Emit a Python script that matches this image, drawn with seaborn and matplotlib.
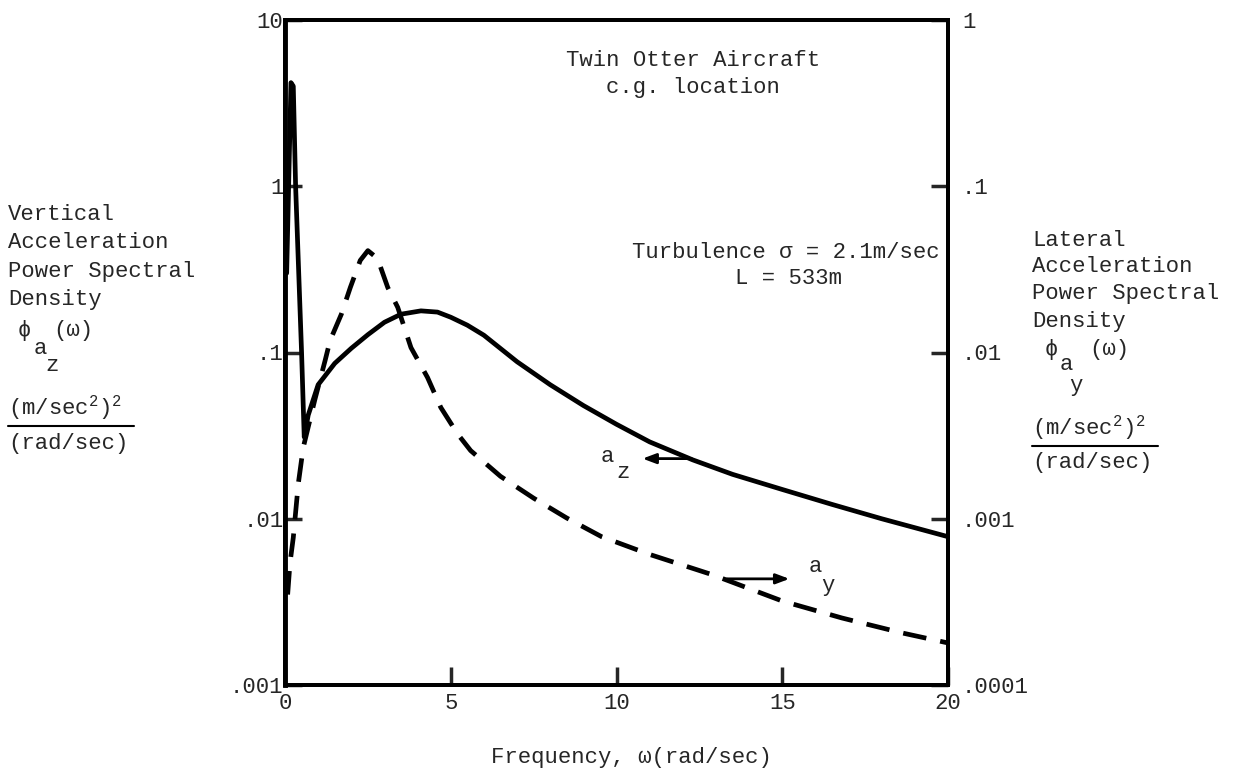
import matplotlib
matplotlib.use('Agg')
import matplotlib.pyplot as plt
import seaborn as sns
from matplotlib.lines import Line2D
from matplotlib.ticker import NullLocator

# a_z, vertical acceleration PSD (left axis)
freq_az = [0.05, 0.18, 0.25, 0.32, 0.5, 0.58, 0.7, 1.0, 1.5, 2.0, 2.5, 3.0,
           3.5, 4.1, 4.6, 5.0, 5.5, 6.0, 7.0, 8.0, 9.0, 10.0, 11.0, 12.3,
           13.5, 15.0, 16.5, 18.0, 20.0]
psd_az = [0.3, 4.2, 4.0, 1.0, 0.1, 0.031, 0.042, 0.064, 0.086, 0.106, 0.128,
          0.152, 0.170, 0.178, 0.175, 0.163, 0.146, 0.127, 0.088, 0.064,
          0.048, 0.037, 0.029, 0.0226, 0.0185, 0.0150, 0.0122, 0.0100, 0.0078]

# a_y, lateral acceleration PSD (right axis)
freq_ay = [0.08, 0.15, 0.25, 0.4, 0.55, 0.9, 1.21, 1.36, 1.7, 1.97, 2.27, 2.5,
           2.79, 3.1, 3.4, 3.8, 4.3, 4.7, 5.2, 5.6, 6.5, 7.5, 8.5, 9.55, 11.0,
           12.9, 15.0, 16.8, 18.6, 20.0]
psd_ay = [0.00035, 0.00054, 0.00077, 0.00162, 0.00268, 0.0052, 0.00895,
          0.0118, 0.017, 0.0246, 0.0358, 0.041, 0.0368, 0.0246, 0.0187,
          0.0107, 0.00707, 0.00467, 0.00325, 0.00257, 0.0018, 0.00133,
          0.00101, 0.00078, 0.00061, 0.00046, 0.00032, 0.000253, 0.000206,
          0.000179]

x_ticks = [0, 5, 10, 15, 20]
left_ticks = [0.001, 0.01, 0.1, 1, 10]
left_labels = ['.001', '.01', '.1', '1', '10']
right_ticks = [0.0001, 0.001, 0.01, 0.1, 1]
right_labels = ['.0001', '.001', '.01', '.1', '1']

sns.set_style('white')
plt.rcParams['font.family'] = ['Liberation Mono', 'DejaVu Sans Mono']
plt.rcParams['mathtext.fontset'] = 'custom'
plt.rcParams['mathtext.rm'] = 'Liberation Mono'
plt.rcParams['mathtext.it'] = 'Liberation Mono'

W, H = 1243, 777
fig = plt.figure(figsize=(W / 100, H / 100), dpi=100)
ax = fig.add_axes([285 / W, 1 - 685 / H, 663 / W, 665 / H])
ax.set_yscale('log')
sns.lineplot(x=freq_az, y=psd_az, ax=ax, color='black', lw=3.4)

ax2 = ax.twinx()
ax2.set_yscale('log')
sns.lineplot(x=freq_ay, y=psd_ay, ax=ax2, color='black', lw=3.4)
ax2.lines[-1].set_dashes([5, 3])

ax.set_xlim(0, 20)
ax.set_ylim(1e-3, 10)
ax2.set_ylim(1e-4, 1)

ax.set_xticks(x_ticks, [str(t) for t in x_ticks])
ax.set_yticks(left_ticks, left_labels)
ax2.set_yticks(right_ticks, right_labels)
for a in (ax, ax2):
    a.yaxis.set_minor_locator(NullLocator())
    a.xaxis.set_minor_locator(NullLocator())
    a.set_xlabel('')
    a.set_ylabel('')
ax.tick_params(axis='y', left=True, right=False, direction='in', length=12,
               width=2.5, pad=1, labelsize=16)
ax.tick_params(axis='x', bottom=True, top=False, direction='in', length=13,
               width=2.5, pad=6, labelsize=16)
ax2.tick_params(axis='y', right=True, left=False, direction='in', length=12,
                width=2.5, pad=10, labelsize=16)

for a in (ax, ax2):
    for sp in a.spines.values():
        sp.set_visible(True)
        sp.set_linewidth(2.8)
        sp.set_color('black')
ax.spines['left'].set_linewidth(3.5)


def ftxt(x, y, s, ha='left', **kw):
    fig.text(x / W, 1 - y / H, s, ha=ha, va='center', fontsize=16, **kw)


def fline(x0, x1, y):
    fig.add_artist(Line2D([x0 / W, x1 / W], [1 - y / H, 1 - y / H],
                          color='black', lw=1.5))


# titles inside the plot
ftxt(693, 61, 'Twin Otter Aircraft', ha='center')
ftxt(693, 88, 'c.g. location', ha='center')
ftxt(632, 252, 'Turbulence σ = 2.1m/sec')
ftxt(735, 278, 'L = 533m')

# left axis label
for i, s in enumerate(['Vertical', 'Acceleration', 'Power Spectral', 'Density']):
    ftxt(8, 214 + 28.5 * i, s)
ftxt(18, 331, 'ϕ')
ftxt(34, 348, 'a')
ftxt(45, 366, 'z')
ftxt(53, 331, '(ω)')
ftxt(8, 408, '(m/sec$^2$)$^2$')
fline(8, 134, 426)
ftxt(8, 443, '(rad/sec)')

# right axis label
for i, s in enumerate(['Lateral', 'Acceleration', 'Power Spectral', 'Density']):
    ftxt(1032, 240 + 27 * i, s)
ftxt(1045, 349, 'ϕ')
ftxt(1060, 364, 'a')
ftxt(1069, 386, 'y')
ftxt(1089, 349, '(ω)')
ftxt(1032, 428, '(m/sec$^2$)$^2$')
fline(1032, 1158, 446)
ftxt(1032, 463, '(rad/sec)')

# x axis label
ftxt(631, 757, 'Frequency, ω(rad/sec)', ha='center')

# curve labels with arrows
arrow = dict(arrowstyle='-|>,head_length=0.8,head_width=0.3', lw=2, color='black')
ax.annotate('', xy=(10.7, 0.023), xytext=(12.35, 0.023), arrowprops=arrow)
ftxt(601, 456, 'a')
ftxt(616, 472, 'z')
ax2.annotate('', xy=(15.3, 0.000435), xytext=(13.25, 0.000435), arrowprops=arrow)
ftxt(809, 567, 'a')
ftxt(821, 586, 'y')

fig.savefig('out.png', dpi=100)
